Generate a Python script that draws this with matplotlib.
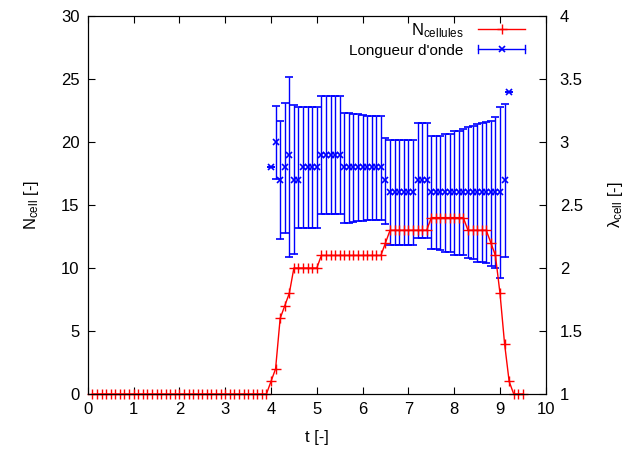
# Nombre de cellules et longueur d'onde en fonction du temps
import numpy as np
import matplotlib
matplotlib.use('Agg')
import matplotlib.pyplot as plt
from matplotlib.lines import Line2D
from matplotlib.legend_handler import HandlerBase

plt.rcParams['font.family'] = ['Liberation Sans', 'DejaVu Sans']
plt.rcParams['mathtext.default'] = 'regular'

# N_cell, un point tous les 0.1 de t = 0.1 a 9.5
t_cell = np.round(np.arange(1, 96) * 0.1, 1)
n_cell = [0] * 39 + [1, 2, 6, 7, 8] + [10] * 6 + [11] * 14 + [12] + [13] * 9 \
    + [14] * 8 + [13] * 5 + [12, 11, 8, 4, 1, 0, 0, 0]

# longueur d'onde (axe de gauche), t = 4.0 a 9.2
t_lam = np.round(np.arange(40, 93) * 0.1, 1)
lam = [18, 20, 17, 18, 19, 17, 17, 18, 18, 18, 18] + [19] * 5 + [18] * 9 + [17] \
    + [16] * 6 + [17] * 3 + [16] * 16 + [17, 24]
err_hi = [0, 2.85, 4.65, 5.1, 6.2, 5.95, 5.8, 4.8, 4.8, 4.8, 4.8] + [4.65] * 5 \
    + [4.3, 4.3, 4.25, 4.2, 4.15, 4.1, 4.1, 4.1, 4.1] + [3.3] + [4.15] * 6 + [4.5] * 3 \
    + [4.5, 4.5, 4.5, 4.6, 4.6, 4.9, 4.9, 5.0, 5.2, 5.3, 5.4, 5.5, 5.6, 5.7, 6.0, 6.8] \
    + [6.05, 0]
err_lo = [0, 2.9, 4.7, 5.25, 8.1, 5.9, 3.85, 4.85, 4.85, 4.85, 4.85] + [4.7] * 5 \
    + [4.4, 4.4, 4.35, 4.3, 4.25, 4.2, 4.2, 4.2, 4.2] + [3.5] + [4.2] * 6 + [4.6] * 3 \
    + [4.5, 4.5, 4.6, 4.7, 4.7, 5.0, 5.0, 5.0, 5.2, 5.3, 5.5, 5.5, 5.6, 5.8, 6.0, 6.8] \
    + [6.1, 0]


class HandlerErr(HandlerBase):
    # echantillon facon gnuplot : trait horizontal, barres aux bouts, croix au milieu
    def create_artists(self, legend, orig_handle, xdescent, ydescent, width, height,
                       fontsize, trans):
        x0, x1 = -xdescent, -xdescent + width
        yc = (height - ydescent) / 2
        arts = [Line2D([x0, x1], [yc, yc], color='blue', lw=1),
                Line2D([x0, x0], [yc - 3, yc + 3], color='blue', lw=1),
                Line2D([x1, x1], [yc - 3, yc + 3], color='blue', lw=1),
                Line2D([(x0 + x1) / 2], [yc], color='blue', marker='x', ms=4, mew=1.2, ls='none')]
        for a in arts:
            a.set_transform(trans)
        return arts


fig = plt.figure(figsize=(6.29, 4.5), dpi=100)
ax = fig.add_axes([0.1396, 0.1244, 0.7281, 0.84])

h1, = ax.plot(t_cell, n_cell, color='red', lw=1, marker='+', ms=7, mew=1,
              label='N$_{cellules}$', clip_on=False, zorder=3)
ax.errorbar(t_lam, lam, yerr=[err_lo, err_hi], fmt='x', color='blue', ms=4, mew=1.2,
            elinewidth=1, capsize=3, capthick=1, zorder=2)

ax.set_xlim(0, 10)
ax.set_ylim(0, 30)
ax.set_xticks(range(0, 11))
ax.set_yticks(range(0, 31, 5))
ax.tick_params(direction='in', length=5, labelsize=12, top=True, right=False, pad=6)
ax.set_xlabel('t [-]', fontsize=12, labelpad=9)
ax.set_ylabel('N$_{cell}$ [-]', fontsize=12, labelpad=14)

ax2 = ax.twinx()
ax2.set_ylim(1, 4)
ax2.set_yticks([1, 1.5, 2, 2.5, 3, 3.5, 4])
ax2.set_yticklabels(['1', '1.5', '2', '2.5', '3', '3.5', '4'])
ax2.tick_params(direction='in', length=5, labelsize=12, pad=10)
ax2.set_ylabel('$\\lambda_{cell}$ [-]', fontsize=12, labelpad=17)

h2 = Line2D([], [], color='blue')
leg = ax.legend([h1, h2], ['N$_{cellules}$', "Longueur d'onde"], handler_map={h2: HandlerErr()},
                loc='upper right', bbox_to_anchor=(0.969, 1.004), borderaxespad=0,
                frameon=False, markerfirst=False, fontsize=12, handlelength=2.8,
                labelspacing=0.2, handletextpad=0.9)
leg.get_texts()[1].set_fontsize(11)

fig.savefig('out.png', dpi=100)
